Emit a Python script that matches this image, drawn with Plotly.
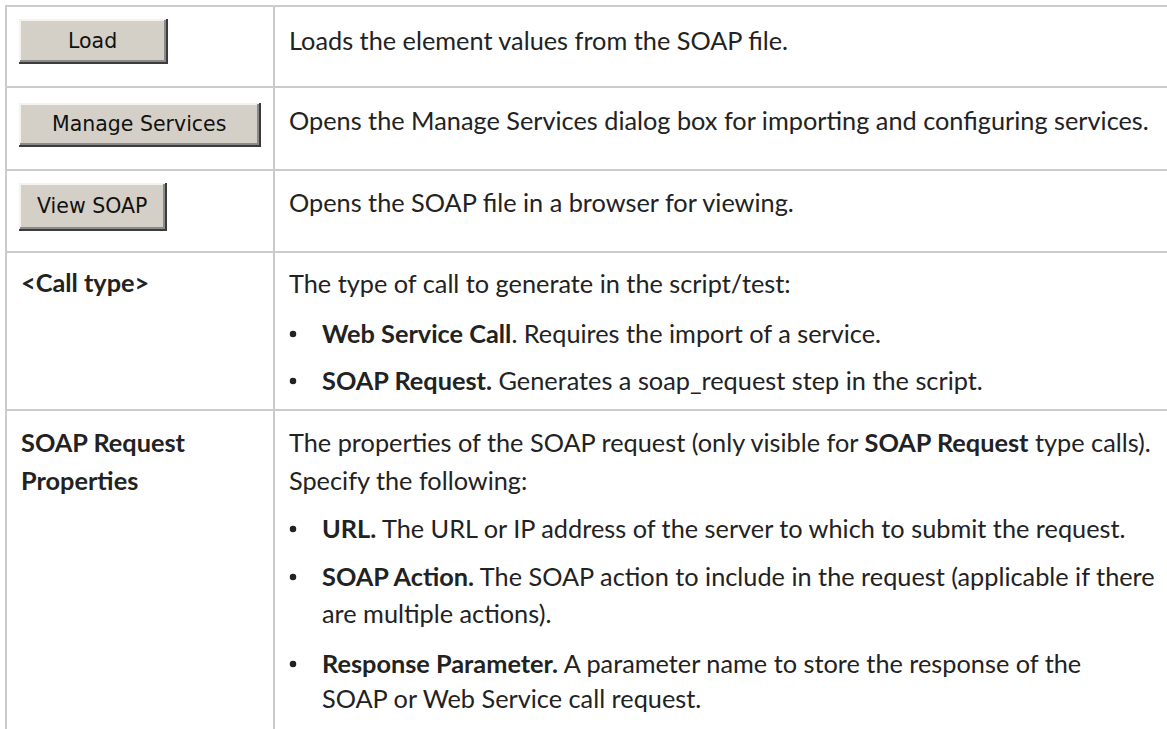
import plotly.graph_objects as go

# ---------------- content ----------------
button_labels = ["Load", "Manage Services", "View SOAP"]
term_labels = ["&lt;Call type&gt;", "SOAP Request", "Properties"]

desc_lines = [
    "Loads the element values from the SOAP file.",
    "Opens the Manage Services dialog box for importing and configuring services.",
    "Opens the SOAP file in a browser for viewing.",
    "The type of call to generate in the script/test:",
    "<b>Web Service Call</b>. Requires the import of a service.",
    "<b>SOAP Request.</b> Generates a soap_request step in the script.",
    "The properties of the SOAP request (only visible for <b>SOAP Request</b> type calls).",
    "Specify the following:",
    "<b>URL.</b> The URL or IP address of the server to which to submit the request.",
    "<b>SOAP Action.</b> The SOAP action to include in the request (applicable if there",
    "are multiple actions).",
    "<b>Response Parameter.</b> A parameter name to store the response of the",
    "SOAP or Web Service call request.",
]
desc_kind = ["p", "p", "p", "p", "b", "b", "p", "p", "b", "b", "c", "b", "c"]

# ---------------- layout constants (page pixel coordinates) ----------------
W, H = 1167, 729
row_lines = [6, 87, 170, 252, 410]
left_x, col_x = 6, 274
desc_y = [40, 120, 202, 283, 333, 380, 442, 480, 528, 576, 613, 663, 698]
term_y = [282, 442, 480]
btn_box = [(19, 168, 19, 64), (19, 261, 103, 147), (19, 167, 183, 231)]
text_x, bullet_x, bullet_text_x, term_x = 287, 293, 320, 19

GRID = "#cbcbcb"
TXT = "#222222"
FONT = "Lato, Roboto, sans-serif"
FS = 25.3

fig = go.Figure()

shapes = []
for y in row_lines:
    shapes.append(dict(type="line", xref="x", yref="y", x0=left_x - 1, x1=W + 20, y0=y, y1=y,
                       line=dict(color=GRID, width=2)))
for x in (left_x, col_x):
    shapes.append(dict(type="line", xref="x", yref="y", x0=x, x1=x, y0=row_lines[0], y1=H + 20,
                       line=dict(color=GRID, width=2)))

annotations = []
for lab, (x0, x1, y0, y1) in zip(button_labels, btn_box):
    shapes.append(dict(type="rect", xref="x", yref="y", x0=x0, x1=x1, y0=y0, y1=y1,
                       fillcolor="#d4d0c8", line=dict(width=0)))
    shapes.append(dict(type="line", xref="x", yref="y", x0=x0, x1=x1 - 2, y0=y0 + 1, y1=y0 + 1,
                       line=dict(color="#f4f3f0", width=2)))
    shapes.append(dict(type="line", xref="x", yref="y", x0=x0 + 1, x1=x0 + 1, y0=y0, y1=y1 - 2,
                       line=dict(color="#f4f3f0", width=2)))
    shapes.append(dict(type="line", xref="x", yref="y", x0=x0 + 1, x1=x1 - 2, y0=y1 - 3, y1=y1 - 3,
                       line=dict(color="#8a8a8a", width=2)))
    shapes.append(dict(type="line", xref="x", yref="y", x0=x1 - 3, x1=x1 - 3, y0=y0 + 1, y1=y1 - 2,
                       line=dict(color="#8a8a8a", width=2)))
    shapes.append(dict(type="line", xref="x", yref="y", x0=x0, x1=x1, y0=y1 - 1, y1=y1 - 1,
                       line=dict(color="#3c3c3c", width=2)))
    shapes.append(dict(type="line", xref="x", yref="y", x0=x1 - 1, x1=x1 - 1, y0=y0, y1=y1,
                       line=dict(color="#3c3c3c", width=2)))
    annotations.append(dict(x=(x0 + x1) / 2 - 1, y=(y0 + y1) / 2 - 1, xref="x", yref="y",
                            text=lab, showarrow=False, xanchor="center", yanchor="middle",
                            font=dict(family="DejaVu Sans", size=20.5, color="#111111")))

for t, y in zip(term_labels, term_y):
    annotations.append(dict(x=term_x, y=y, xref="x", yref="y", text="<b>" + t + "</b>",
                            showarrow=False, xanchor="left", yanchor="middle",
                            font=dict(family=FONT, size=FS, color=TXT)))

bx, by = [], []
for t, k, y in zip(desc_lines, desc_kind, desc_y):
    x = text_x if k == "p" else bullet_text_x
    if k == "b":
        bx.append(bullet_x)
        by.append(y + 1)
    annotations.append(dict(x=x, y=y, xref="x", yref="y", text=t,
                            showarrow=False, xanchor="left", yanchor="middle",
                            font=dict(family=FONT, size=FS, color=TXT)))

fig.add_trace(go.Scatter(x=bx, y=by, mode="markers",
                         marker=dict(size=6.5, color=TXT), hoverinfo="skip", showlegend=False))

fig.update_layout(
    width=W, height=H, margin=dict(l=0, r=0, t=0, b=0),
    paper_bgcolor="white", plot_bgcolor="white",
    xaxis=dict(range=[0, W], visible=False, fixedrange=True),
    yaxis=dict(range=[H, 0], visible=False, fixedrange=True),
    shapes=shapes, annotations=annotations, showlegend=False,
)

fig.write_html("out.html", config={"displayModeBar": False},
               post_script="document.body.style.margin='0';document.body.style.overflow='hidden';")
